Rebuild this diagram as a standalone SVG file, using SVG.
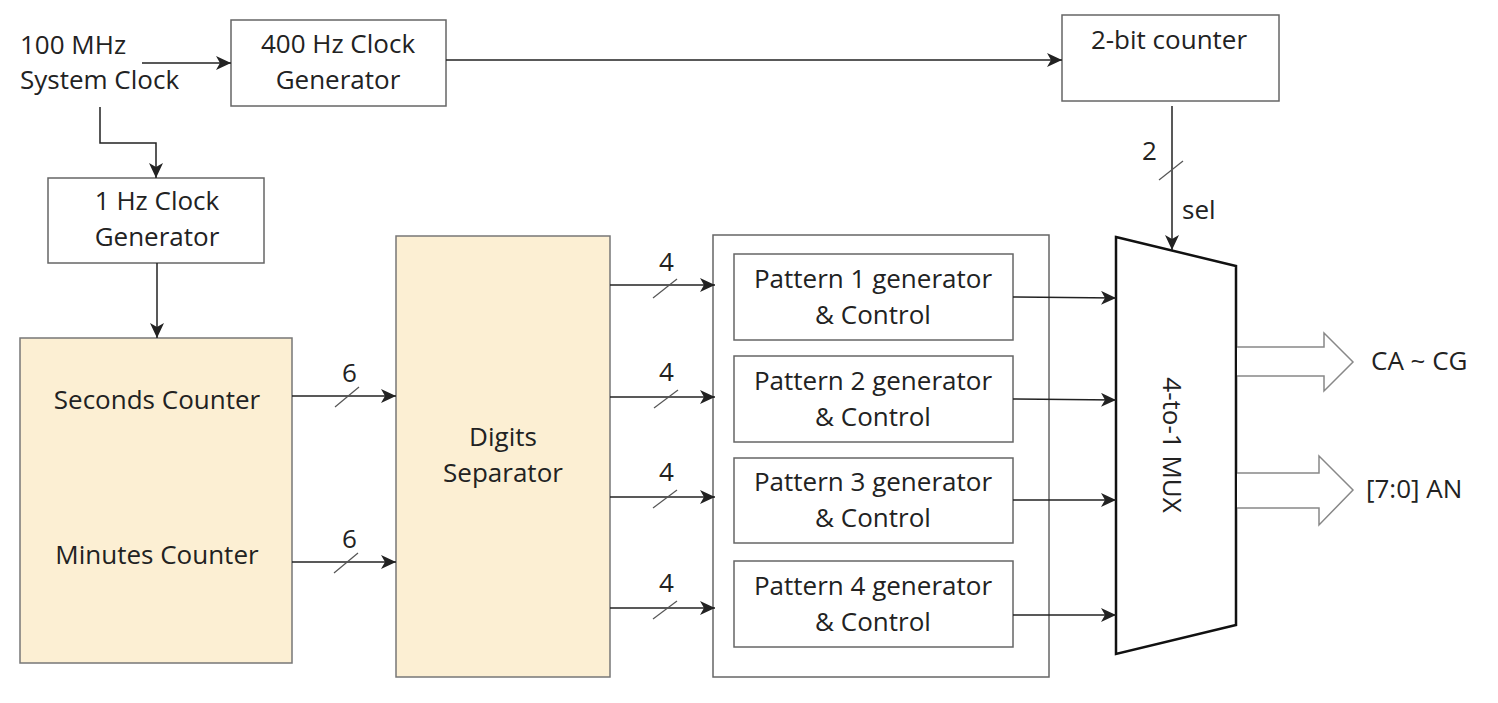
<svg xmlns="http://www.w3.org/2000/svg" width="1498" height="703" viewBox="0 0 1498 703">
<style>
text{font-family:"Open Sans","Noto Sans","Liberation Sans",sans-serif;font-size:26px;fill:#222;}
.c{text-anchor:middle;}
.box{fill:#fff;stroke:#666;stroke-width:1.5;}
.cream{fill:#FCEFD3;stroke:#777;stroke-width:1.5;}
.w{fill:none;stroke:#222;stroke-width:1.5;}
.sl{fill:none;stroke:#555;stroke-width:1.2;}
.bus{fill:#fff;stroke:#888;stroke-width:1.5;}
</style>
<defs>
<marker id="ah" markerWidth="16" markerHeight="14" refX="15" refY="7" orient="auto" markerUnits="userSpaceOnUse">
<path d="M0,0 L15,7 L0,14 L4,7 z" fill="#222"/>
</marker>
</defs>
<rect width="1498" height="703" fill="#fff"/>

<g id="sysclk">
<text x="20" y="54">100 MHz</text>
<text x="20" y="89">System Clock</text>
</g>
<g id="clk400">
<rect class="box" x="231" y="20" width="215" height="86"/>
<text class="c" x="338" y="53">400 Hz Clock</text>
<text class="c" x="338" y="89">Generator</text>
</g>
<g id="counter2">
<rect class="box" x="1062" y="15" width="217" height="86"/>
<text class="c" x="1169" y="49">2-bit counter</text>
</g>
<g id="clk1">
<rect class="box" x="48" y="178" width="216" height="85"/>
<text class="c" x="157" y="210">1 Hz Clock</text>
<text class="c" x="157" y="246">Generator</text>
</g>
<g id="counters">
<rect class="cream" x="20" y="338" width="272" height="325"/>
<text class="c" x="157" y="409">Seconds Counter</text>
<text class="c" x="157" y="564">Minutes Counter</text>
</g>
<g id="separator">
<rect class="cream" x="396" y="236" width="214" height="441"/>
<text class="c" x="503" y="446">Digits</text>
<text class="c" x="503" y="482">Separator</text>
</g>
<g id="patterns">
<rect class="box" x="713" y="235" width="336" height="442"/>
<g id="p1">
<rect class="box" x="734" y="254" width="279" height="86"/>
<text class="c" x="873" y="288">Pattern 1 generator</text>
<text class="c" x="873" y="324">&amp; Control</text>
</g>
<g id="p2">
<rect class="box" x="734" y="356" width="279" height="86"/>
<text class="c" x="873" y="390">Pattern 2 generator</text>
<text class="c" x="873" y="426">&amp; Control</text>
</g>
<g id="p3">
<rect class="box" x="734" y="458" width="279" height="85"/>
<text class="c" x="873" y="491">Pattern 3 generator</text>
<text class="c" x="873" y="527">&amp; Control</text>
</g>
<g id="p4">
<rect class="box" x="734" y="561" width="279" height="86"/>
<text class="c" x="873" y="595">Pattern 4 generator</text>
<text class="c" x="873" y="631">&amp; Control</text>
</g>
</g>
<g id="mux">
<path d="M1116,237 L1236,266 L1236,625 L1116,654 z" fill="#fff" stroke="#111" stroke-width="2.5"/>
<text class="c" transform="translate(1173,445) rotate(90)" dominant-baseline="central">4-to-1 MUX</text>
</g>
<g id="outputs">
<path class="bus" d="M1237,347 L1324,347 L1324,333 L1353,362 L1324,391 L1324,376 L1237,376"/>
<text x="1371" y="370">CA ~ CG</text>
<path class="bus" d="M1237,473 L1319,473 L1319,456 L1353,490 L1319,525 L1319,508 L1237,508"/>
<text x="1366" y="498">[7:0] AN</text>
</g>

<g id="connectors">
<line class="w" x1="142" y1="63" x2="231" y2="63" marker-end="url(#ah)"/>
<line class="w" x1="446" y1="60" x2="1062" y2="60" marker-end="url(#ah)"/>
<polyline class="w" points="100,107 100,143 156,143 156,178" marker-end="url(#ah)"/>
<line class="w" x1="157" y1="263" x2="157" y2="338" marker-end="url(#ah)"/>
<line class="w" x1="1172" y1="106" x2="1172" y2="250" marker-end="url(#ah)"/>
<line class="sl" x1="1159" y1="180" x2="1183" y2="161"/>
<text x="1142" y="160">2</text>
<text x="1182" y="219">sel</text>

<line class="w" x1="292" y1="396" x2="396" y2="396" marker-end="url(#ah)"/>
<line class="sl" x1="335" y1="407" x2="359" y2="387"/>
<text x="342" y="382">6</text>
<line class="w" x1="292" y1="562" x2="396" y2="562" marker-end="url(#ah)"/>
<line class="sl" x1="334" y1="573" x2="358" y2="553"/>
<text x="342" y="548">6</text>

<line class="w" x1="610" y1="285" x2="715" y2="285" marker-end="url(#ah)"/>
<line class="sl" x1="653" y1="298" x2="677" y2="279"/>
<text x="659" y="271">4</text>
<line class="w" x1="610" y1="397" x2="715" y2="397" marker-end="url(#ah)"/>
<line class="sl" x1="654" y1="408" x2="678" y2="390"/>
<text x="659" y="381">4</text>
<line class="w" x1="610" y1="497" x2="715" y2="497" marker-end="url(#ah)"/>
<line class="sl" x1="653" y1="508" x2="677" y2="490"/>
<text x="659" y="481">4</text>
<line class="w" x1="610" y1="608" x2="715" y2="608" marker-end="url(#ah)"/>
<line class="sl" x1="653" y1="619" x2="677" y2="601"/>
<text x="659" y="592">4</text>

<line class="w" x1="1013" y1="297" x2="1116" y2="298" marker-end="url(#ah)"/>
<line class="w" x1="1013" y1="399" x2="1116" y2="400" marker-end="url(#ah)"/>
<line class="w" x1="1013" y1="500" x2="1116" y2="500" marker-end="url(#ah)"/>
<line class="w" x1="1013" y1="615" x2="1116" y2="615" marker-end="url(#ah)"/>
</g>
</svg>
